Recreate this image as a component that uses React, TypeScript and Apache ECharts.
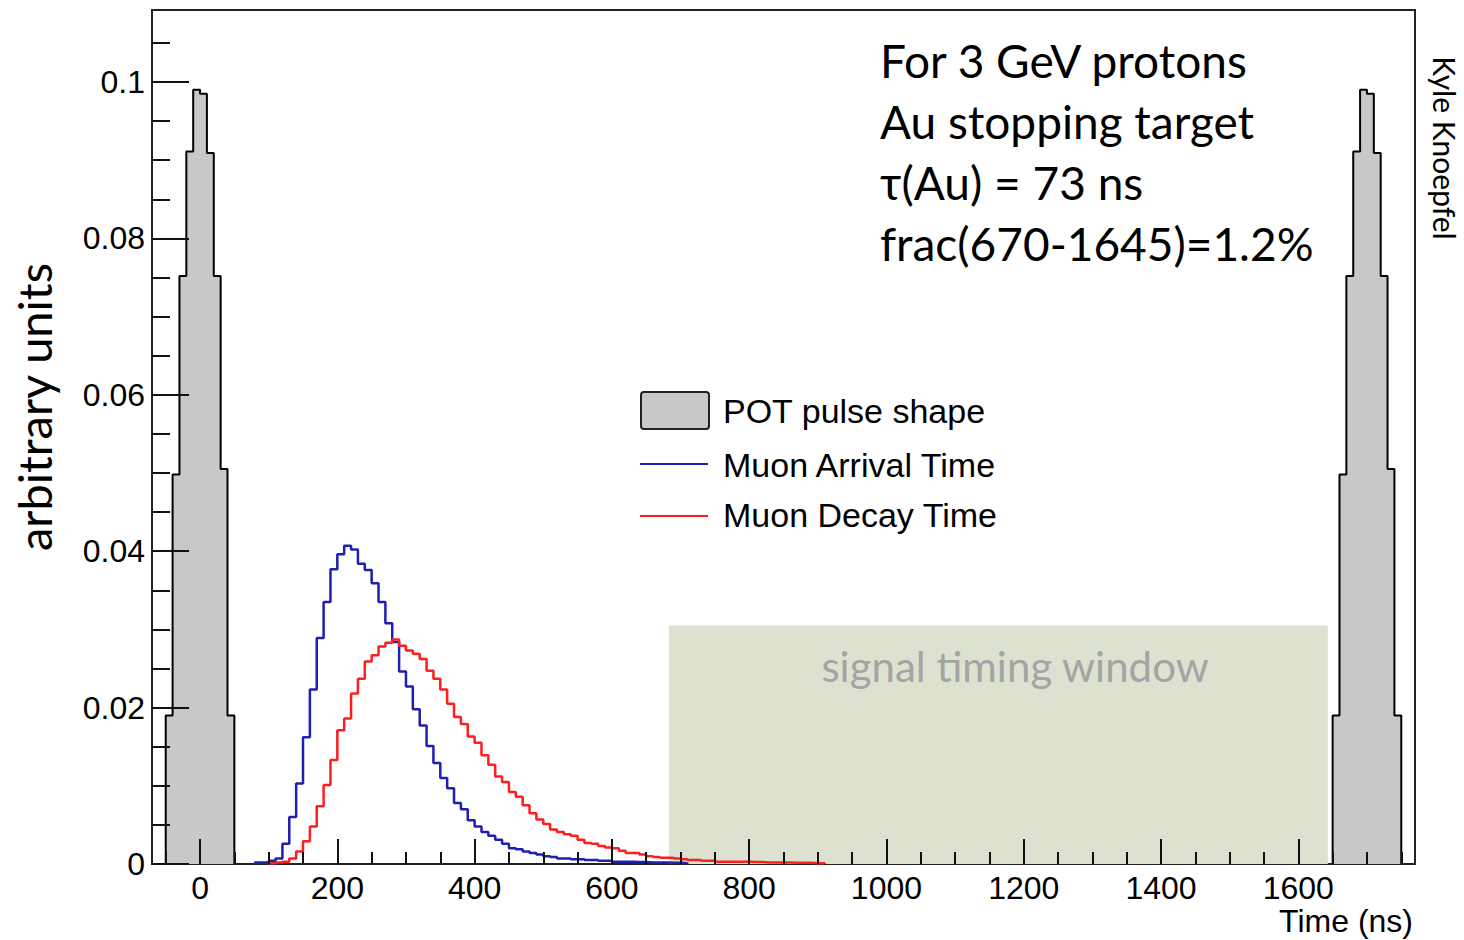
import React, { useEffect, useRef } from "react";
import * as echarts from "echarts";

// ---------- data ----------
const binWidth = 10; // ns
const pulseStart1 = -50;
const pulseStart2 = 1650;
const pulseValues = [0.019, 0.0498, 0.0752, 0.0911, 0.099, 0.0985, 0.0909, 0.0752, 0.0505, 0.019];

const arrivalStart = 80;
const arrivalValues = [
  0.0002, 0.0002, 0.0004, 0.0007, 0.0026, 0.006, 0.0103, 0.0162, 0.0223, 0.0289,
  0.0335, 0.0377, 0.0396, 0.0407, 0.0402, 0.0384, 0.0376, 0.0359, 0.0335, 0.0308,
  0.0284, 0.0246, 0.0227, 0.0198, 0.0177, 0.0151, 0.0129, 0.011, 0.0097, 0.0078,
  0.007, 0.0056, 0.0048, 0.0041, 0.0036, 0.0031, 0.0026, 0.002, 0.0019, 0.0016,
  0.0014, 0.0012, 0.001, 0.0009, 0.0007, 0.0007, 0.0006, 0.0006, 0.0005, 0.0005,
  0.0004, 0.0004, 0.0003, 0.0003, 0.0003, 0.00025, 0.00025, 0.0002, 0.0002, 0.0002,
  0.00015, 0.00015, 0.0001,
];

const decayStart = 100;
const decayValues = [
  0.0001, 0.0002, 0.0003, 0.0007, 0.0016, 0.0029, 0.0048, 0.0074, 0.0101, 0.0133,
  0.0171, 0.0186, 0.0218, 0.0237, 0.0259, 0.0267, 0.0278, 0.0283, 0.0287, 0.0279,
  0.0273, 0.0269, 0.0262, 0.0247, 0.0237, 0.0223, 0.0205, 0.0188, 0.0179, 0.0163,
  0.0155, 0.0139, 0.0127, 0.0112, 0.0105, 0.0092, 0.0086, 0.0075, 0.0065, 0.0057,
  0.0051, 0.0044, 0.0041, 0.0038, 0.0036, 0.0031, 0.0027, 0.0026, 0.0023, 0.0021,
  0.002, 0.0017, 0.0014, 0.0014, 0.0012, 0.001, 0.0009, 0.0008, 0.0008, 0.0007,
  0.0006, 0.0005, 0.0005, 0.0004, 0.0004, 0.0003, 0.0003, 0.0003, 0.0003, 0.0003,
  0.00025, 0.00025, 0.0002, 0.0002, 0.0002, 0.0002, 0.00015, 0.00015, 0.00015, 0.0001,
  0.0001,
];

const signalWindow = [683, 1643, 0.0305]; // start ns, end ns, height

const xTickLabels = [0, 200, 400, 600, 800, 1000, 1200, 1400, 1600];
const xMinorTicks = [
  -50, 50, 100, 150, 250, 300, 350, 450, 500, 550, 650, 700, 750, 850, 900, 950,
  1050, 1100, 1150, 1250, 1300, 1350, 1450, 1500, 1550, 1650, 1700, 1750,
];
const yTickLabels = [0, 0.02, 0.04, 0.06, 0.08, 0.1];
const yMinorTicks = [
  0.005, 0.01, 0.015, 0.025, 0.03, 0.035, 0.045, 0.05, 0.055, 0.065, 0.07, 0.075,
  0.085, 0.09, 0.095, 0.105,
];

const annotationLines = ["For 3 GeV protons", "Au stopping target", "τ(Au) = 73 ns", "frac(670-1645)=1.2%"];
const legendNames = ["POT pulse shape", "Muon Arrival Time", "Muon Decay Time"];

const xMin = -70;
const xMax = 1770;
const yMax = 0.1092;

function histData(start: number, width: number, values: number[]) {
  const pts: number[][] = [[start, 0]];
  values.forEach((v, i) => pts.push([start + i * width, v]));
  pts.push([start + values.length * width, 0]);
  return pts;
}

const BLUE = "#1f1fb0";
const RED = "#ff1e1e";
const SANS = "'Liberation Sans', Arial, Helvetica, sans-serif";
const CAL = "Lato, 'Open Sans', sans-serif";

export default function App() {
  const ref = useRef<HTMLDivElement>(null);
  useEffect(() => {
    if (!ref.current) return;
    const chart = echarts.init(ref.current, null, { renderer: "svg" });
    const pulseSeries = (start: number) => ({
      type: "line",
      step: "end",
      data: histData(start, binWidth, pulseValues),
      symbol: "none",
      lineStyle: { color: "#000", width: 2 },
      areaStyle: { color: "#c8c8c8", opacity: 1 },
      z: 3,
    });
    const option: any = {
      animation: false,
      backgroundColor: "#fff",
      grid: {
        left: 152,
        right: 49,
        top: 10,
        bottom: 76,
        show: true,
        borderColor: "#222",
        borderWidth: 2,
      },
      xAxis: [
        {
          type: "value",
          min: xMin,
          max: xMax,
          position: "bottom",
          z: 10,
          axisLine: { show: false, onZero: false },
          splitLine: { show: false },
          axisTick: {
            inside: true,
            length: 25,
            customValues: xTickLabels,
            lineStyle: { color: "#111", width: 2 },
          },
          axisLabel: {
            customValues: xTickLabels,
            fontFamily: SANS,
            fontSize: 32,
            color: "#000",
            margin: 8,
            formatter: (v: number) => String(Math.round(v)),
          },
        },
        {
          type: "value",
          min: xMin,
          max: xMax,
          position: "bottom",
          offset: 0,
          z: 10,
          axisLine: { show: false, onZero: false },
          splitLine: { show: false },
          axisTick: {
            inside: true,
            length: 12,
            customValues: xMinorTicks,
            lineStyle: { color: "#111", width: 2 },
          },
          axisLabel: { show: false },
        },
      ],
      yAxis: [
        {
          type: "value",
          min: 0,
          max: yMax,
          position: "left",
          z: 10,
          axisLine: { show: false, onZero: false },
          splitLine: { show: false },
          axisTick: {
            inside: true,
            length: 37,
            customValues: yTickLabels,
            lineStyle: { color: "#111", width: 2 },
          },
          axisLabel: {
            customValues: yTickLabels,
            fontFamily: SANS,
            fontSize: 32,
            color: "#000",
            margin: 7,
            formatter: (v: number) => String(+v.toFixed(2)),
          },
        },
        {
          type: "value",
          min: 0,
          max: yMax,
          position: "left",
          offset: 0,
          z: 10,
          axisLine: { show: false, onZero: false },
          splitLine: { show: false },
          axisTick: {
            inside: true,
            length: 18,
            customValues: yMinorTicks,
            lineStyle: { color: "#111", width: 2 },
          },
          axisLabel: { show: false },
        },
      ],
      series: [
        {
          type: "custom",
          z: 1,
          data: [signalWindow],
          renderItem: (params: any, api: any) => {
            const p0 = api.coord([api.value(0), 0]);
            const p1 = api.coord([api.value(1), api.value(2)]);
            return {
              type: "rect",
              shape: { x: p0[0], y: p1[1], width: p1[0] - p0[0], height: p0[1] - p1[1] },
              style: { fill: "#dde2d0" },
            };
          },
        },
        pulseSeries(pulseStart1),
        pulseSeries(pulseStart2),
        {
          type: "line",
          step: "end",
          data: histData(arrivalStart, binWidth, arrivalValues),
          symbol: "none",
          lineStyle: { color: BLUE, width: 2.5 },
          z: 4,
        },
        {
          type: "line",
          step: "end",
          data: histData(decayStart, binWidth, decayValues),
          symbol: "none",
          lineStyle: { color: RED, width: 2.5 },
          z: 5,
        },
      ],
      graphic: [
        ...annotationLines.map((t, i) => ({
          type: "text",
          x: 880,
          y: 60 + i * 61,
          z: 20,
          style: {
            text: t,
            fill: "#000",
            font: `46px ${CAL}`,
            textAlign: "left",
            textVerticalAlign: "middle",
          },
        })),
        {
          type: "text",
          x: 1015,
          y: 666,
          z: 20,
          style: {
            text: "signal timing window",
            fill: "#a4a4a4",
            font: `42px ${CAL}`,
            textAlign: "center",
            textVerticalAlign: "middle",
          },
        },
        {
          type: "text",
          x: 1445,
          y: 148,
          rotation: -Math.PI / 2,
          z: 20,
          style: {
            text: "Kyle Knoepfel",
            fill: "#000",
            font: `30px ${CAL}`,
            textAlign: "center",
            textVerticalAlign: "middle",
          },
        },
        {
          type: "text",
          x: 34,
          y: 407,
          rotation: Math.PI / 2,
          z: 20,
          style: {
            text: "arbitrary units",
            fill: "#000",
            font: `47px ${CAL}`,
            textAlign: "center",
            textVerticalAlign: "middle",
          },
        },
        {
          type: "text",
          x: 1413,
          y: 921,
          z: 20,
          style: {
            text: "Time (ns)",
            fill: "#000",
            font: `32px ${SANS}`,
            textAlign: "right",
            textVerticalAlign: "middle",
          },
        },
        // legend
        {
          type: "rect",
          z: 20,
          shape: { x: 641, y: 392, width: 68, height: 37, r: 3 },
          style: { fill: "#c8c8c8", stroke: "#222", lineWidth: 2 },
        },
        {
          type: "line",
          z: 20,
          shape: { x1: 640, y1: 464, x2: 708, y2: 464 },
          style: { stroke: BLUE, lineWidth: 2 },
        },
        {
          type: "line",
          z: 20,
          shape: { x1: 640, y1: 516, x2: 708, y2: 516 },
          style: { stroke: RED, lineWidth: 2 },
        },
        ...legendNames.map((t, i) => ({
          type: "text",
          x: 723,
          y: [411, 465, 515][i],
          z: 20,
          style: {
            text: t,
            fill: "#000",
            font: `34px ${SANS}`,
            textAlign: "left",
            textVerticalAlign: "middle",
          },
        })),
      ],
    };
    chart.setOption(option);
    return () => chart.dispose();
  }, []);
  return (
    <div
      ref={ref}
      style={{ position: "fixed", left: 0, top: 0, width: 1464, height: 940, background: "#fff" }}
    />
  );
}
